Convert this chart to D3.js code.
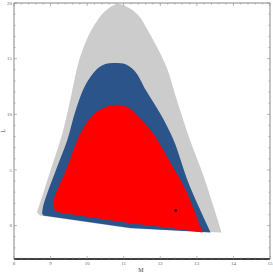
<!DOCTYPE html>
<html>
<head>
<meta charset="utf-8">
<script src="https://cdn.jsdelivr.net/npm/d3@7"></script>
<style>
  body { margin: 0; background: #fff; }
  .tick-label { font-family: 'Liberation Serif', serif; font-size: 5px; fill: #666; }
  .axis-title { font-family: 'Liberation Serif', serif; font-size: 6px; fill: #444; }
</style>
</head>
<body>
<div id="chart"></div>
<script>
// region outlines as [M, L]; upper arc then bottom edge (right to left)
const grayArc = [[8.63,1.17],[8.96,4.57],[9.32,8.25],[9.54,11.3],[9.81,15.16],[10.14,17.7],[10.5,19.3],[10.83,19.91],
  [11.12,19.6],[11.4,18.9],[11.65,17.6],[12.17,14.26],[12.45,11.3],[12.78,7.98],[13.19,4.39],[13.68,-0.63]];
const grayBottom = [[11.18,-0.25],[8.71,0.9]];
const blueArc = [[8.77,1.08],[8.8,1.79],[9.15,5.02],[9.46,7.71],[9.68,10.3],[9.95,12.6],[10.25,14.0],[10.5,14.52],[10.77,14.62],
  [11.05,14.5],[11.3,13.9],[11.62,12.1],[12.01,10.0],[12.36,7.71],[12.78,3.77],[13.38,-0.63]];
const blueBottom = [[11.18,-0.22],[8.8,0.9]];
const redArc = [[9.13,1.35],[9.07,1.97],[9.46,5.29],[9.81,8.25],[10.09,9.7],[10.4,10.5],[10.77,10.85],[11.13,10.6],
  [11.46,9.6],[11.82,8.2],[12.23,5.92],[12.69,3.23],[13.16,-0.63]];
const redBottom = [[12.2,-0.18],[11.05,0.27],[9.26,1.17]];
const point = [12.42, 1.35];
const xTicks = [8, 9, 10, 11, 12, 13, 14, 15];
const yTicks = [0, 5, 10, 15, 20];

const W = 273, H = 274;
const margin = { top: 3, right: 3, bottom: 15, left: 14 };

const svg = d3.select('#chart').append('svg')
  .attr('width', W).attr('height', H);

const x = d3.scaleLinear().domain([8, 15]).range([margin.left, W - margin.right]);
const y = d3.scaleLinear().domain([-3, 20]).range([H - margin.bottom, margin.top]);

function regionPath(arc, bottom) {
  const top = d3.line().x(d => x(d[0])).y(d => y(d[1])).curve(d3.curveCatmullRom)(arc);
  return top + bottom.map(d => 'L' + x(d[0]) + ',' + y(d[1])).join('') + 'Z';
}

svg.append('path').attr('d', regionPath(grayArc, grayBottom)).attr('fill', '#cccccc');
svg.append('path').attr('d', regionPath(blueArc, blueBottom)).attr('fill', '#2a548a');
svg.append('path').attr('d', regionPath(redArc, redBottom)).attr('fill', '#ff0000');

svg.append('circle')
  .attr('cx', x(point[0])).attr('cy', y(point[1]))
  .attr('r', 1.3).attr('fill', '#000');

// frame
const x0 = x.range()[0], x1 = x.range()[1], y0 = y.range()[0], y1 = y.range()[1];
const frame = svg.append('g').attr('stroke', '#888').attr('stroke-width', 1).attr('fill', 'none');
frame.append('line').attr('x1', x0).attr('x2', x0).attr('y1', y0).attr('y2', y1);
frame.append('line').attr('x1', x1).attr('x2', x1).attr('y1', y0).attr('y2', y1);
frame.append('line').attr('x1', x0).attr('x2', x1).attr('y1', y1).attr('y2', y1);
svg.append('line').attr('x1', x0).attr('x2', x1).attr('y1', y0).attr('y2', y0)
  .attr('stroke', '#000').attr('stroke-width', 1.3);

// ticks pointing inward
const tk = svg.append('g').attr('stroke', '#888').attr('stroke-width', 0.6);
d3.range(8, 15.001, 0.2).forEach(v => {
  const major = Math.abs(v - Math.round(v)) < 1e-6;
  const len = major ? 3 : 1.5;
  tk.append('line').attr('x1', x(v)).attr('x2', x(v)).attr('y1', y0).attr('y2', y0 - len);
  tk.append('line').attr('x1', x(v)).attr('x2', x(v)).attr('y1', y1).attr('y2', y1 + len);
});
d3.range(-3, 20.001, 1).forEach(v => {
  const major = v % 5 === 0;
  const len = major ? 3 : 1.5;
  tk.append('line').attr('y1', y(v)).attr('y2', y(v)).attr('x1', x0).attr('x2', x0 + len);
  tk.append('line').attr('y1', y(v)).attr('y2', y(v)).attr('x1', x1).attr('x2', x1 - len);
});

svg.selectAll('text.xt').data(xTicks).enter().append('text')
  .attr('class', 'tick-label').attr('x', d => x(d)).attr('y', y0 + 6)
  .attr('text-anchor', 'middle').text(d => d);
svg.selectAll('text.yt').data(yTicks).enter().append('text')
  .attr('class', 'tick-label').attr('x', x0 - 2).attr('y', d => y(d) + 1.7)
  .attr('text-anchor', 'end').text(d => d);

svg.append('text').attr('class', 'axis-title')
  .attr('x', 141).attr('y', 272).attr('text-anchor', 'middle').text('M');
svg.append('text').attr('class', 'axis-title')
  .attr('transform', 'translate(5,131) rotate(-90)').attr('text-anchor', 'middle').text('L');
</script>
</body>
</html>
